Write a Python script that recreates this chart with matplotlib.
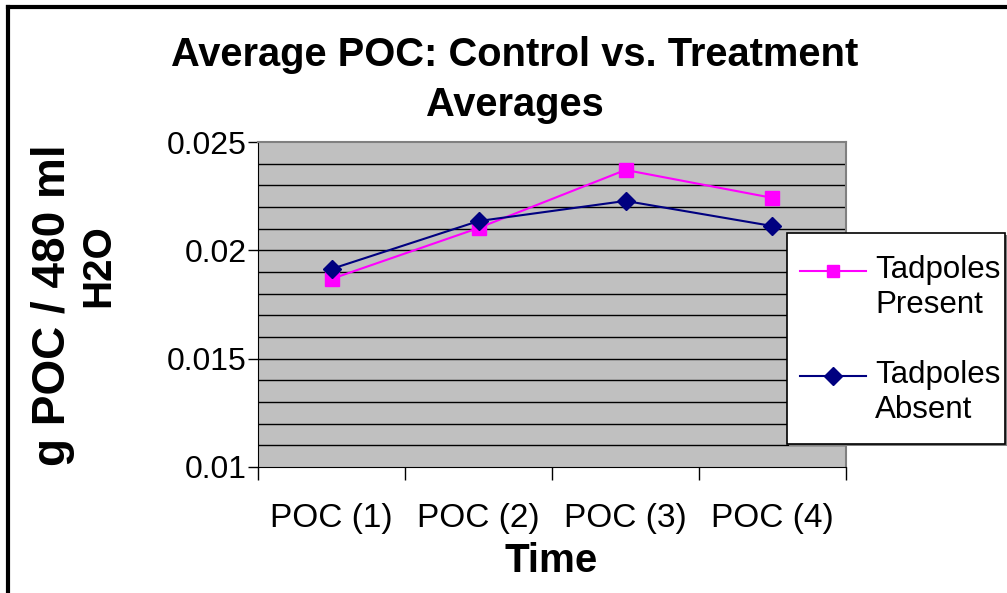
import matplotlib
matplotlib.use("Agg")
import matplotlib.pyplot as plt
from matplotlib.lines import Line2D
from matplotlib.patches import Rectangle
from matplotlib.legend_handler import HandlerLine2D

plt.rcParams['font.family'] = ['Liberation Sans', 'DejaVu Sans']

categories = ["POC (1)", "POC (2)", "POC (3)", "POC (4)"]
tadpoles_present = [0.01868, 0.02103, 0.02371, 0.02242]
tadpoles_absent = [0.01914, 0.02135, 0.02228, 0.02112]
y_ticks = [0.01, 0.015, 0.02, 0.025]
y_tick_labels = ["0.01", "0.015", "0.02", "0.025"]

W, H = 1007, 593
fig = plt.figure(figsize=(W / 100, H / 100), dpi=100)

# figure border (left and top visible)
fig.add_artist(Line2D([8 / W, 8 / W], [0, 1 - 7 / H], color='black', lw=3, transform=fig.transFigure))
fig.add_artist(Line2D([8 / W, 1], [1 - 7 / H, 1 - 7 / H], color='black', lw=3, transform=fig.transFigure))

left, right, top, bottom = 258, 846, 142, 467
ax = fig.add_axes([left / W, 1 - bottom / H, (right - left) / W, (bottom - top) / H])
ax.set_facecolor('#C0C0C0')

x = list(range(len(categories)))
ax.set_xlim(-0.5, len(categories) - 0.5)
ax.set_ylim(0.01, 0.025)

# gridlines every 0.001
for i in range(1, 15):
    ax.axhline(0.01 + i * 0.001, color='black', lw=1.0, zorder=1)

ax.plot(x, tadpoles_present, color='#FF00FF', lw=1.5, marker='s', markersize=10,
        markerfacecolor='#FF00FF', markeredgecolor='#FF00FF', zorder=3)
ax.plot(x, tadpoles_absent, color='#000080', lw=1.5, marker='D', markersize=9,
        markerfacecolor='#000080', markeredgecolor='#000080', zorder=4)

for side in ['top', 'right']:
    ax.spines[side].set_color('#808080')
    ax.spines[side].set_linewidth(1.5)
ax.spines['left'].set_color('black')
ax.spines['bottom'].set_color('black')

ax.set_yticks(y_ticks)
ax.set_yticklabels(y_tick_labels, fontsize=23)
ax.tick_params(axis='y', direction='out', length=7, width=1, pad=1)

ax.set_xticks([i - 0.5 for i in range(len(categories) + 1)])
ax.set_xticklabels([])
ax.tick_params(axis='x', which='major', direction='out', length=9, width=1)
ax.set_xticks(x, minor=True)
ax.set_xticklabels(categories, minor=True, fontsize=24)
ax.tick_params(axis='x', which='minor', length=0, pad=26)

fig.text(551 / W, 1 - 561 / H, "Time", ha='center', va='center', fontsize=29, fontweight='bold')

fig.text(53 / W, 1 - 305 / H, "g POC / 480 ml", rotation=90, ha='center', va='center',
         fontsize=33, fontweight='bold')
fig.text(98 / W, 1 - 266 / H, "H2O", rotation=90, ha='center', va='center',
         fontsize=29, fontweight='bold')

fig.text(515 / W, 1 - 55 / H, "Average POC: Control vs. Treatment", ha='center', va='center',
         fontsize=28.7, fontweight='bold')
fig.text(515 / W, 1 - 105 / H, "Averages", ha='center', va='center',
         fontsize=28.7, fontweight='bold')


class HandlerTop(HandlerLine2D):
    def __init__(self, shift, **kw):
        super().__init__(**kw)
        self.shift = shift

    def create_artists(self, legend, orig_handle, xdescent, ydescent, width, height,
                       fontsize, trans):
        arts = super().create_artists(legend, orig_handle, xdescent, ydescent, width, height,
                                      fontsize, trans)
        for a in arts:
            yd = a.get_ydata()
            a.set_ydata([v + self.shift for v in yd])
        return arts


# legend frame
fig.add_artist(Rectangle((789 / W, 1 - 446 / H), 218 / W, 211 / H, transform=fig.transFigure,
                         facecolor='#808080', edgecolor='none', zorder=9))
fig.add_artist(Rectangle((787 / W, 1 - 444 / H), 218 / W, 211 / H, transform=fig.transFigure,
                         facecolor='white', edgecolor='black', lw=1.2, zorder=10))

h1 = Line2D([], [], color='#FF00FF', lw=1.5, marker='s', markersize=9)
h2 = Line2D([], [], color='#000080', lw=1.5, marker='D', markersize=9)
leg_fs = 22.5
leg = fig.legend([h1, h2], ["Tadpoles\nPresent", "Tadpoles\nAbsent"],
                 loc='upper left', bbox_to_anchor=(800 / W, 1 - 255 / H),
                 fontsize=leg_fs, frameon=False, handlelength=2.1, handletextpad=0.3,
                 labelspacing=1.3, borderpad=0, borderaxespad=0,
                 handler_map={h1: HandlerTop(12), h2: HandlerTop(12)})
leg.set_zorder(11)
for t in leg.get_texts():
    t.set_linespacing(1.2)

fig.savefig("out.png", dpi=100)
